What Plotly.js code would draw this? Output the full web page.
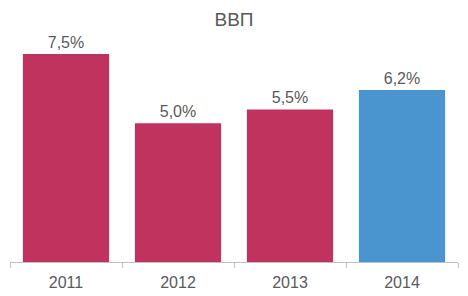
<!DOCTYPE html>
<html>
<head>
<meta charset="utf-8">
<script src="https://cdn.plot.ly/plotly-3.0.1.min.js"></script>
<style>html,body{margin:0;padding:0;background:#fff;}#chart{width:468px;height:296px;}</style>
</head>
<body>
<div id="chart"></div>
<script>
var categories = ['2011', '2012', '2013', '2014'];
var values = [7.5, 5.0, 5.5, 6.2];
var barColors = ['#C0335F', '#C0335F', '#C0335F', '#4A94D0'];
var labels = values.map(function (v) { return v.toFixed(1).replace('.', ',') + '%'; });

var trace = {
  type: 'bar',
  x: categories,
  y: values,
  text: labels,
  textposition: 'outside',
  cliponaxis: false,
  textfont: {family: 'Liberation Sans, Arial, sans-serif', size: 16, color: '#595959'},
  marker: {color: barColors},
  hoverinfo: 'none'
};

var layout = {
  width: 468,
  height: 296,
  margin: {l: 10, r: 10, t: 40, b: 34},
  paper_bgcolor: '#fff',
  plot_bgcolor: '#fff',
  showlegend: false,
  bargap: 0.23,
  title: {
    text: 'ВВП',
    x: 0.5,
    xanchor: 'center',
    y: 0.935,
    yanchor: 'middle',
    font: {family: 'Liberation Sans, Arial, sans-serif', size: 19, color: '#595959'}
  },
  xaxis: {
    type: 'category',
    showline: true,
    linecolor: '#BFBFBF',
    linewidth: 1,
    ticks: 'outside',
    tickson: 'boundaries',
    ticklen: 5,
    tickcolor: '#BFBFBF',
    ticklabelstandoff: 6,
    tickfont: {family: 'Liberation Sans, Arial, sans-serif', size: 16, color: '#595959'},
    showgrid: false,
    zeroline: false,
    fixedrange: true
  },
  yaxis: {
    range: [0, 8],
    visible: false,
    showgrid: false,
    zeroline: false,
    fixedrange: true
  }
};

Plotly.newPlot('chart', [trace], layout, {displayModeBar: false, staticPlot: true});
</script>
</body>
</html>
